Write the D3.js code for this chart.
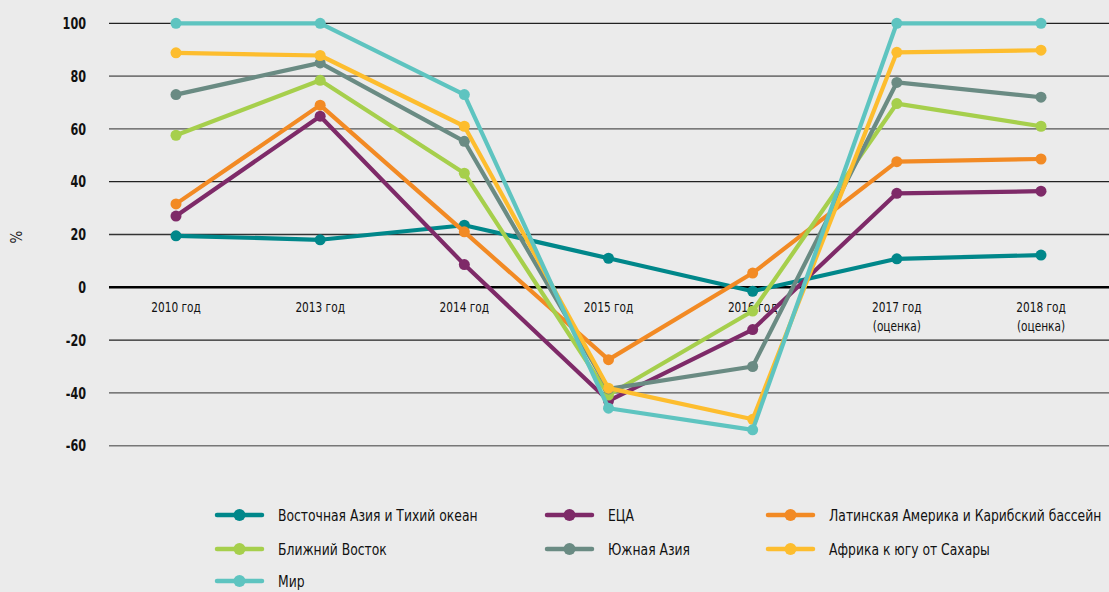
<!DOCTYPE html>
<html>
<head>
<meta charset="utf-8">
<script src="https://cdn.jsdelivr.net/npm/d3@7"></script>
<style>
  html, body { margin: 0; padding: 0; background: #ebebeb; }
  svg { display: block; }
  .cond { font-family: "DejaVu Sans Condensed", "Roboto", "Noto Sans", sans-serif; }
</style>
</head>
<body>
<svg id="chart" width="1109" height="592"></svg>
<script>
const categories = ["2010 год", "2013 год", "2014 год", "2015 год", "2016 год", "2017 год\n(оценка)", "2018 год\n(оценка)"];
const yTicks = [100, 80, 60, 40, 20, 0, -20, -40, -60];

const eastAsia    = [19.5, 18, 23.5, 11, -1.5, 10.8, 12.2];
const eca         = [27, 64.8, 8.6, -43, -16, 35.6, 36.4];
const latAm       = [31.6, 69, 21, -27.4, 5.4, 47.6, 48.6];
const middleEast  = [57.6, 78.4, 43.2, -40.8, -9, 69.6, 61];
const southAsia   = [73, 85, 55.3, -38.5, -30, 77.6, 72];
const africa      = [88.8, 87.8, 61, -38.2, -50, 89, 89.8];
const world       = [100, 100, 73, -45.8, -54, 100, 100];

const seriesNames  = ["Восточная Азия и Тихий океан", "ЕЦА", "Латинская Америка и Карибский бассейн",
                      "Ближний Восток", "Южная Азия", "Африка к югу от Сахары", "Мир"];
const seriesValues = [eastAsia, eca, latAm, middleEast, southAsia, africa, world];
const seriesColors = ["#00878a", "#7e2a68", "#f28a24", "#a6cf4c", "#6a8b83", "#fdbd2e", "#5ec4c0"];

const svg = d3.select("#chart");
svg.append("rect").attr("width", 1109).attr("height", 592).attr("fill", "#ebebeb");

const x = d3.scalePoint().domain(categories).range([176, 1041]);
const y = d3.scaleLinear().domain([-60, 100]).range([445.7, 23.3]);

// gridlines
const gridStyle = {100: ["#222", 1.3], 80: ["#777", 1.6], 60: ["#555", 1.3], 40: ["#222", 1.3], 20: ["#333", 1.3],
                   0: ["#000", 2.6], "-20": ["#222", 1.3], "-40": ["#555", 1.3], "-60": ["#777", 1.6]};
svg.append("g").selectAll("line").data(yTicks).join("line")
  .attr("x1", 109).attr("x2", 1109)
  .attr("y1", d => y(d)).attr("y2", d => y(d))
  .attr("stroke", d => gridStyle[d][0]).attr("stroke-width", d => gridStyle[d][1]);

// y axis labels (horizontally squeezed to mimic a condensed bold face)
const yg = svg.append("g");
yTicks.forEach(v => {
  yg.append("g").attr("transform", `translate(86,${y(v)}) scale(0.78,1)`)
    .append("text").attr("class", "cond").attr("text-anchor", "end").attr("dy", "0.35em")
    .attr("font-size", 16).attr("font-weight", "bold").attr("fill", "#111").text(String(v));
});

svg.append("text").attr("class", "cond").attr("transform", "translate(22,237) rotate(-90)")
  .attr("text-anchor", "middle").attr("font-size", 15).attr("fill", "#222").text("%");

// x labels
const xg = svg.append("g");
categories.forEach(c => {
  const t = xg.append("g").attr("transform", `translate(${x(c)},312) scale(0.84,1)`)
    .append("text").attr("class", "cond").attr("text-anchor", "middle")
    .attr("font-size", 14).attr("fill", "#111");
  c.split("\n").forEach((p, i) => {
    t.append("tspan").attr("x", 0).attr("dy", i === 0 ? 0 : 19).text(p);
  });
});

// lines
const line = d3.line().x((d, i) => x(categories[i])).y(d => y(d));
seriesValues.forEach((vals, si) => {
  const g = svg.append("g");
  g.append("path").datum(vals).attr("d", line).attr("fill", "none")
    .attr("stroke", seriesColors[si]).attr("stroke-width", 4.2).attr("stroke-linejoin", "round");
  g.selectAll("circle").data(vals).join("circle")
    .attr("cx", (d, i) => x(categories[i])).attr("cy", d => y(d)).attr("r", 5.5)
    .attr("fill", seriesColors[si]);
});

// legend
const legendCols = [217, 547, 768];
const legendRows = [515, 549, 581];
seriesNames.forEach((name, si) => {
  const cx = legendCols[si % 3], cy = legendRows[Math.floor(si / 3)];
  const g = svg.append("g").attr("transform", `translate(${cx},${cy})`);
  g.append("line").attr("x1", 0).attr("x2", 45).attr("y1", 0).attr("y2", 0)
    .attr("stroke", seriesColors[si]).attr("stroke-width", 4.5).attr("stroke-linecap", "round");
  g.append("circle").attr("cx", 22.5).attr("cy", 0).attr("r", 6).attr("fill", seriesColors[si]);
  g.append("g").attr("transform", "translate(61,0) scale(0.86,1)")
    .append("text").attr("class", "cond").attr("dy", "0.35em")
    .attr("font-size", 16).attr("fill", "#111").text(name);
});
</script>
</body>
</html>
